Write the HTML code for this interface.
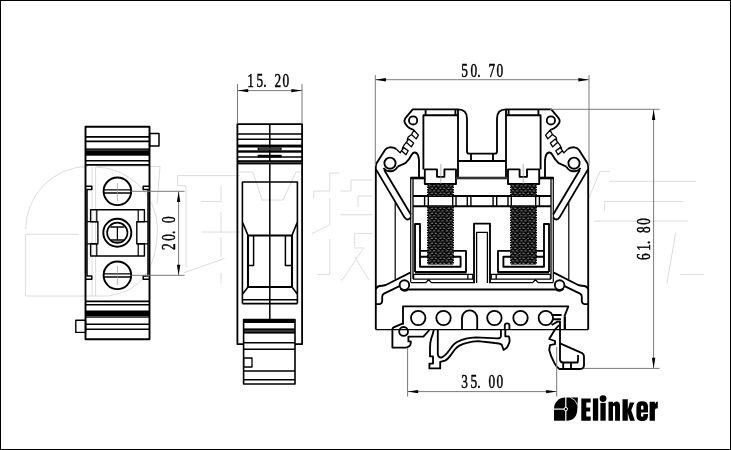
<!DOCTYPE html>
<html><head><meta charset="utf-8"><title>Terminal block drawing</title>
<style>
html,body{margin:0;padding:0;background:#fff;}
body{width:731px;height:450px;overflow:hidden;font-family:"Liberation Serif",serif;}
svg{display:block;}
text{font-family:"Liberation Serif",serif;fill:#000;stroke:#000;stroke-width:0.5px;}
.k{stroke:#000;fill:none;stroke-width:1.85;stroke-linejoin:round;stroke-linecap:butt;}
.t{stroke:#000;fill:none;stroke-width:1.1;}
.d{stroke:#7a7a7a;fill:none;stroke-width:1;}
.w{stroke:#dcdcdc;fill:none;stroke-width:1;}
.c{stroke:#999;fill:none;stroke-width:0.7;}
</style></head><body>
<svg width="731" height="450" viewBox="0 0 731 450">
<defs>
<filter id="soft" x="0" y="0" width="100%" height="100%" filterUnits="userSpaceOnUse"><feGaussianBlur stdDeviation="0.35"/></filter>
<pattern id="th" width="8.4" height="5" patternUnits="userSpaceOnUse">
<rect width="8.4" height="5" fill="#050505"/>
<path d="M0.5 1.1L3 0.8 M4.6 0.9L6.8 0.6 M2.4 3.5L4.8 3.3 M6.6 3.6L8.4 3.4" stroke="#8c8c8c" stroke-width="0.85"/>
<path d="M3.2 2.2L4.6 2.1 M0.2 4.6L1.8 4.5 M6.2 2.3L7.6 2.2" stroke="#555" stroke-width="0.7"/>
</pattern>
</defs>
<rect x="0" y="0" width="731" height="450" fill="#fff"/>
<g filter="url(#soft)">
<!--WATERMARK-->
<g id="wm" class="w">
<path d="M25.6 229A63 63 0 0 1 88 166.4 M25.6 234.3H78.5 M25.6 234.3V296H108 M92 167V296 M95.6 167V296 M95.6 166.4H160L157 204 M96 167A63 63 0 0 1 157.5 228Q157 290 108 296"/>
<path d="M177.5 185.6V175.6H240 M177.5 185.6H186V267.4 M221 185.6V201.6H201.4 M221 212V232 M201 232H240 M221 237V256.8 M183.6 272.8L224.5 258.5 M221 272.8V283.5"/>
<path d="M329.8 191V173H339.4 M313.8 198V191H329.8 M329.8 198V224.7L312 233.6 M329.8 239V274.6H317.4 M351 191V180H372.5 M340.5 191H351 M358 207V196H372.5 M340.5 214.8H372.5 M354.7 246V233.6H372.5 M354.7 247.9H363.6L342.3 279.9H340.5 M354.7 256.8L369 279.9"/>
<path d="M610 171.4H600L588 200 M609 181.3H696 M604.6 210.5V201.6H683 M594 221H688 M675.7 232.6L666.9 283.5 M680.4 274.6H704"/>
<path d="M239 172H253 M253 172L262 200 M283 200L296 172H302 M262 200H283"/>
</g>
<!--LEFTVIEW-->
<g id="lv">
<!-- outer -->
<rect x="85.5" y="126.8" width="64" height="212.5" class="k" style="stroke-width:1.9"/>
<!-- top stripes -->
<path class="k" style="stroke-width:1.6" d="M85.6 136.9H149.4 M85.6 141.4H149.4 M85.6 160.7H149.4 M85.6 164.9H149.4"/>
<rect x="85.6" y="148.4" width="63.8" height="7.3" fill="#000"/>
<path d="M86.6 150.1H148.4" stroke="#999" stroke-width="0.5"/>
<rect x="149.6" y="133.4" width="9.4" height="12.6" class="k" style="stroke-width:1.5"/>
<!-- bottom stripes -->
<path class="k" style="stroke-width:1.6" d="M85.6 301.4H149.4 M85.6 304.8H149.4 M85.6 324.2H149.4 M85.6 329.2H149.4"/>
<rect x="85.6" y="310.5" width="63.8" height="7.2" fill="#000"/>
<path d="M86.6 316.5H148.4" stroke="#999" stroke-width="0.5"/>
<rect x="75.8" y="320.2" width="9.8" height="12.2" class="k" style="stroke-width:1.4"/>
<!-- inner walls/tabs -->
<path class="k" style="stroke-width:1.5" d="M85.6 186.2H91.8V189.4H87V276H91.8V279.2H85.6 M149.4 186.2H143.2V189.4H148V276H143.2V279.2H149.4"/>
<!-- screws -->
<circle cx="117.4" cy="191.3" r="13.8" class="k" style="stroke-width:1.9"/>
<path class="k" style="stroke-width:1.4" d="M103.6 189.9H131.2 M103.7 193H131.1"/>
<path class="c" d="M117.4 183V201"/>
<circle cx="117.4" cy="275.3" r="13.8" class="k" style="stroke-width:1.9"/>
<path class="k" style="stroke-width:1.4" d="M103.6 273.9H131.2 M103.7 277H131.1"/>
<path class="c" d="M117.4 266V285"/>
<!-- centre block -->
<path class="k" style="stroke-width:1.4" d="M90.6 209.8H144.4V221.7H136.8V243.8H144.4V256H90.6V243.8H97.9V221.7H90.6Z"/>
<path class="k" style="stroke-width:1.2" d="M96.8 209.8V221.7 M138.2 209.8V221.7 M96.8 243.8V256 M138.2 243.8V256 M87.2 221.7H97.9 M87.2 243.8H97.9 M136.8 221.7H147.8 M136.8 243.8H147.8"/>
<circle cx="117.3" cy="232.8" r="14" class="k" style="stroke-width:1.9"/>
<circle cx="117.3" cy="232.8" r="10.2" class="k" style="stroke-width:1.6"/>
<path class="k" style="stroke-width:1.3" d="M110.3 227H124.3 M110.3 240H124.3 M112.8 242.2H121.8 M117.4 227V240"/>
</g>
<!--MIDVIEW-->
<g id="mv">
<path class="k" style="stroke-width:1.8" d="M243.6 344.2H237.4V124.1H302.1V344.2H295"/>
<path class="k" style="stroke-width:1.5" d="M269.8 124V319"/>
<path class="k" style="stroke-width:1.5" d="M237.8 134.1H302.2 M237.8 139.3H302.2 M237.8 157.1H302.2"/>
<rect x="237.8" y="144.6" width="64.4" height="2.9" fill="#000"/>
<rect x="237.8" y="150.3" width="64.4" height="2.4" fill="#000"/>
<rect x="257.6" y="147.4" width="24" height="3" fill="#111"/>
<path d="M259 149H280.4" stroke="#aaa" stroke-width="0.6"/>
<rect x="257.6" y="154.8" width="24" height="2.6" fill="#000"/>
<rect x="237.8" y="160.2" width="64.4" height="4.2" fill="#000"/>
<path d="M238.6 162.3H301.4" stroke="#777" stroke-width="0.7"/>
<path class="k" style="stroke-width:1.6" d="M242.4 303.6V182H297.4V303.6 M242.4 222L248 235.4 M297.4 222L292 235.4 M248 287L242.6 294 M292 287L297.2 294 M242.4 299.8H297.4 M242.4 303.6H297.4"/>
<rect x="248" y="235.5" width="44" height="51.5" class="k" style="stroke-width:2.1"/>
<path class="k" style="stroke-width:1.5" d="M253.6 235.4V265.4H248 M285.4 235.4V265.4H292"/>
<!-- lower block -->
<rect x="243.6" y="319.5" width="51.4" height="64.5" class="k" style="stroke-width:1.6"/>
<rect x="243.6" y="319" width="51.4" height="4" fill="#000"/>
<path class="k" style="stroke-width:1.5" d="M243.6 342.8H295 M243.6 349.2H295 M243.6 371H295 M243.6 379.8H295"/>
<rect x="243.6" y="328.4" width="51.4" height="5.2" fill="#000"/>
<path d="M244.6 331H294" stroke="#888" stroke-width="0.8"/>
<rect x="243.6" y="358" width="8.4" height="9" class="k" style="stroke-width:1.3"/>
</g>
<!--RIGHTVIEW-->
<g id="rv">
<g id="h">
<!-- tower outline, serration, hook, wall -->
<path class="k" d="M482 153.6H469.2Q467 153.6 467 151.4V118.6Q467 109.4 458 109.4H412.7L405.2 118.4Q403.6 120.8 405 123.2Q407 126.6 410 128.4L413.8 130"/>
<path class="k" style="stroke-width:1.3" d="M414 130.2L418.4 135.1L416.2 138.9L411.5 134.5Z M411.5 134.5L408 137.2L407.3 140L408.8 139.2 M408.7 139.1L413.6 143.1L411.3 146.9L406.4 142.2Z M406.4 142.2L404.2 144.9L402.4 148.2L403.8 147.6 M403.8 147.6L408.2 150.7L406 154.7L401.6 150.7Z M401.6 150.7L400.2 152.9L398 150.7L396.2 148.9"/>
<path class="k" d="M396.2 148.9Q393 147.2 389.6 147.3Q386.4 147.6 385 149.9L376.7 163.1Q375.8 164.6 375.8 167V329.6"/>
<circle class="k" cx="413.1" cy="120.4" r="4.1"/>
<circle class="k" cx="390" cy="163.2" r="5.6"/>
<path class="k" style="stroke-width:1.9" d="M383.4 168A8.4 8.4 0 0 0 397.6 166.6"/>
<path class="k" d="M397.6 166.6L405.4 163.2L408.8 159.4L411.8 154.4Q413.2 152.3 415 152.5Q417.6 153 418.4 156.5L419 160V177"/>
<!-- arm -->
<path class="k" d="M376 169.4L404.6 217.6Q406.6 220.6 409.2 219L410.8 217.4 M384.2 170L410.8 214.4"/>
<path class="k" style="stroke-width:1.2" d="M395.2 202.8V279.6"/>
<!-- clamp -->
<path class="k" d="M423.4 169.4V115.2H458 M458 109.4V177 M425.6 109.4V115.2 M455.4 109.4V115.2"/>
<path class="k" d="M424.8 169.4H437V176.8H444.4V169.4H456V184H424.8Z"/>
<path class="c" d="M440.8 164V184"/>
<!-- notch rects -->
<path class="k" d="M471 153.6V161 M458 161H482"/>
<path class="k" style="stroke-width:2.6;stroke:#333" d="M456 178H482"/>
<!-- body top + wall -->
<path class="k" style="stroke-width:2.6" d="M410.6 178H424.8"/>
<path class="k" style="stroke-width:1.2" d="M410.7 177V282.3"/>
<path class="k" style="stroke-width:1.8;stroke:#444" d="M413 179V279"/>
<!-- band -->
<path class="k" d="M413 196H482 M413 206.2H482"/>
<path class="k" style="stroke-width:1.4" d="M424.6 196V206.2 M428.3 196V206.2 M452.7 196V206.2 M456 196V206.2 M467.3 196V206.2 M470.9 196V206.2"/>
<!-- bracket -->
<path class="k" d="M415 272V224H420V266.7H460.6V256.7H420 M420 250.9H466V272"/>
<path class="k" style="stroke-width:2.6" d="M415 272.3H466.6"/>
<path class="k" style="stroke-width:1.3" d="M413.6 274.4H472.8V279.2H413.6Z M467.8 274.4V279.2"/>
<path class="k" style="stroke-width:1.3" d="M410.7 282.6H425.8L428.6 279.8L431.4 282.6H475"/>
<!-- threads -->
<rect x="427.9" y="184" width="25.2" height="11.8" fill="url(#th)"/>
<rect x="427.9" y="206.4" width="25.2" height="58.2" fill="url(#th)"/>
<path d="M427.6 184V195.6 M453.4 184V195.6 M427.6 207V264.4 M453.4 207V264.4" stroke="#000" stroke-width="1.1" stroke-dasharray="1.5 1" fill="none"/>
<!-- centre post -->
<path class="k" d="M474 283V223.6H482"/>
<path class="k" style="stroke-width:1.3" d="M476.6 283V232.4H482"/>
<!-- lower left detail -->
<path class="k" d="M410.2 272.6L385.8 285Q382 286 379.6 286Q376.4 286.6 375.8 289.4"/>
<path class="k" d="M399.4 286.2L384 293.6Q382.2 294.6 382.2 296.6V301Q382 303.8 379.6 304.1H375.8"/>
<circle class="k" cx="404.4" cy="285" r="4.8"/>
<path class="k" style="stroke-width:2.2" d="M400.6 288.6A5.2 5.2 0 0 0 408.4 289"/>
<path class="k" style="stroke-width:2" d="M408.4 289.6H482"/>
<!-- rail frame -->
<circle class="k" cx="418.2" cy="318" r="7.2"/>
<circle class="k" cx="443.5" cy="318" r="7.2"/>
</g>
<use href="#h" transform="translate(964 0) scale(-1 1)"/>
<path class="k" d="M403 324.6V306.4H568.3L564.4 316.6"/>
<!-- bottom line -->
<path class="k" style="stroke-width:1.3" d="M375.8 329.6H588.2"/>
<circle class="k" cx="494.4" cy="318" r="7.2"/>
<!-- arch -->
<path class="k" d="M462 329.6V318A7.6 7.6 0 0 1 477.2 318V329.6"/>
<!-- left foot -->
<path class="k" d="M403 323.4L393.6 327.4Q392.4 328 392.4 329.6V347.6H405.6Q410.6 347 410.8 343V341.4H408.4V336.6H423.4L429.4 330"/>
<circle class="k" cx="403.6" cy="331.4" r="4.4" fill="#fff"/>
<!-- spring foot -->
<path class="k" d="M433.8 330Q432.6 335 431.2 338.6Q430 343 430 348V356.4H433V363.6H429.4V368.4H440.2V361.8L445 360.6Q447.6 359.4 449.8 356.4L454.6 349.8Q456.6 347.2 459.4 345.6Q463 343.6 468 342.6Q472 341.6 478 341.2L495 343Q500 343.4 501.8 344.8L503.6 350L506.8 347.8Q509.8 343 509.6 340Q509.4 337 508.6 336.3H505.3V329.6"/>
<path class="k" d="M437.8 330V354Q438 357.6 441.4 357.6Q445 356 447.4 352.8L452.2 346.2Q454.5 343.4 457 342Q461 339.8 466 338.6Q470 337.8 476 337.4L497 338.4Q500.9 338.6 500.9 336V329.6"/>
<path class="k" d="M504.8 329.6V325.6A2.3 2.3 0 0 1 509.4 325.6V329.6"/>
<!-- right DIN clip -->
<path class="k" d="M551.6 315H561.6 M552.8 319.2H561 M551.6 325L557.6 321.6H560V323"/>
<path class="k" style="stroke-width:2.3" d="M564.8 316.6V329.6"/>
<path class="k" d="M560 343.4L580.4 352.4Q584 353.4 584 357V365Q584 369 580 369H559.4Q556.4 367 554.6 363.4Q550.6 356 549.2 350L550 345.2L555 344.2V341L549.2 339L555 329.6L559 325"/>
<path class="k" d="M560 323V359.6Q560.2 362.4 563 362.5H577.6Q578.4 359 578 355 M563.2 362.5V369 M571 362.5V369"/>
</g>
<!--DIMS-->
<g id="dm">
<defs>
<path id="ar" d="M0 0L10.6 -1.7V1.7Z" fill="#000"/>
</defs>
<!-- 20.0 -->
<path class="d" d="M131.2 191.3H184.6 M131.2 275.3H184.6 M178.6 191.3V275.3"/>
<use href="#ar" transform="translate(178.6 191.3) rotate(90)"/>
<use href="#ar" transform="translate(178.6 275.3) rotate(-90)"/>
<text transform="translate(174.6 250) rotate(-90) scale(0.700 1)" font-size="19" x="0.0 13.3 22.9 38.7">20.0</text>
<!-- 15.20 -->
<path class="d" d="M237.5 84V123 M302 84V123 M237.5 90.6H302"/>
<use href="#ar" transform="translate(237.6 90.6)"/>
<use href="#ar" transform="translate(302 90.6) rotate(180)"/>
<text transform="translate(247.3 87.4) scale(0.700 1)" font-size="19" x="0.0 13.3 22.9 38.7 50.3">15.20</text>
<!-- 50.70 -->
<path class="d" d="M375.3 75V166 M589 75V166 M375.3 79.7H589"/>
<use href="#ar" transform="translate(375.3 79.7)"/>
<use href="#ar" transform="translate(589 79.7) rotate(180)"/>
<text transform="translate(461.3 77) scale(0.700 1)" font-size="19" x="0.0 13.3 22.9 38.7 50.3">50.70</text>
<!-- 35.00 -->
<path class="d" d="M407.6 348V396.5 M556.7 347V396.5 M407.6 391.6H556.7"/>
<use href="#ar" transform="translate(407.6 391.6)"/>
<use href="#ar" transform="translate(556.7 391.6) rotate(180)"/>
<text transform="translate(461.3 388.4) scale(0.700 1)" font-size="19" x="0.0 13.3 22.9 38.7 50.3">35.00</text>
<!-- 61.80 -->
<path class="d" d="M550 109.3H659.6 M584 368.4H659.6 M653.6 109.3V368.4"/>
<use href="#ar" transform="translate(653.6 109.3) rotate(90)"/>
<use href="#ar" transform="translate(653.6 368.4) rotate(-90)"/>
<text transform="translate(650.4 260) rotate(-90) scale(0.700 1)" font-size="19" x="0.0 13.3 22.9 38.7 50.3">61.80</text>
</g>
<!--LOGO-->
<g id="lg" fill="#000">
<path d="M565.2 408.5H554A11.3 11 0 0 1 565.2 397.6Z"/>
<rect x="554" y="409.7" width="11.2" height="11"/>
<path d="M566.4 397.6H577.9L577.3 409Q577 420.7 566.4 420.7Z"/>
<path d="M570.4 397.5Q576 399.4 577.6 405.2" fill="none" stroke="#fff" stroke-width="0.8"/>
<circle cx="565.8" cy="409.1" r="1.7" stroke="#fff" stroke-width="1"/>
<path d="M581.3 398.4H590.7V402.6H586.3V407.4H590.2V411.5H586.3V416.5H590.7V420.7H581.3Z"/>
<rect x="592.9" y="398.4" width="5.3" height="22.3"/>
<rect x="600.4" y="402.9" width="5.3" height="17.8"/>
<circle cx="603.05" cy="398.6" r="3.4"/>
<path d="M608.5 401.8H613V403.4Q614.5 401.4 616.5 401.4Q620 401.6 620 405.5V420.7H615.1V407Q615 405.8 614.05 405.8Q613 405.8 613 407V420.7H608.5Z"/>
<path d="M622.5 399.2H627.8V409.5L629.8 402.4H634.4L631.2 410.2L634.9 420.7H630L627.8 413.2V420.7H622.5Z"/>
<path fill-rule="evenodd" d="M642.2 401.2Q648 401.2 648 406.5V412.6H641V415.6Q641 416.8 642.2 416.8Q643.4 416.8 643.4 415.6V414H648V415.8Q648 421 642.2 421Q636.4 421 636.4 415.8V406.5Q636.4 401.2 642.2 401.2Z M641 409.6H643.4V406.8Q643.4 405.6 642.2 405.6Q641 405.6 641 406.8Z"/>
<path d="M649.6 401.8H654.9V404Q656 401.6 657.8 401.6V408.4Q654.9 408 654.9 410.5V420.7H649.6Z"/>
</g>
</g>
<rect x="0.5" y="0.5" width="730" height="449" fill="none" stroke="#000" style="stroke-width:1"/>
</svg>
</body></html>
